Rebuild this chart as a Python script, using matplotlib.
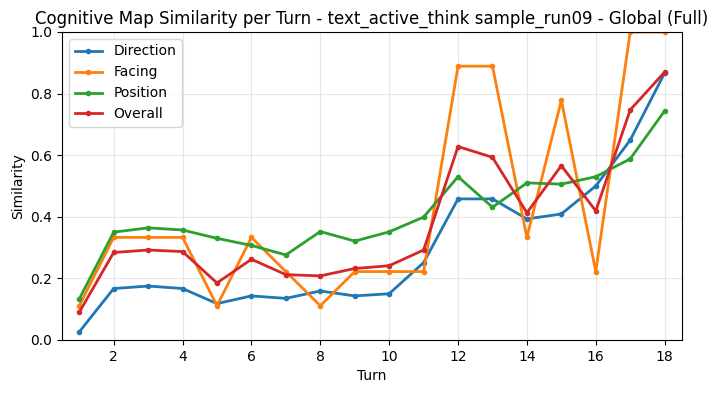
import matplotlib
matplotlib.use("Agg")
import matplotlib.pyplot as plt

turns = list(range(1, 19))
direction = [0.026, 0.167, 0.175, 0.167, 0.118, 0.143, 0.135, 0.159, 0.143, 0.150,
             0.251, 0.458, 0.458, 0.393, 0.409, 0.500, 0.649, 0.867]
facing = [0.111, 0.333, 0.333, 0.333, 0.111, 0.333, 0.222, 0.111, 0.222, 0.222,
          0.222, 0.889, 0.889, 0.333, 0.778, 0.222, 1.0, 1.0]
position = [0.133, 0.350, 0.364, 0.357, 0.330, 0.307, 0.276, 0.352, 0.321, 0.351,
            0.399, 0.530, 0.431, 0.510, 0.506, 0.530, 0.588, 0.744]
overall = [0.090, 0.284, 0.292, 0.287, 0.185, 0.262, 0.212, 0.208, 0.232, 0.241,
           0.292, 0.628, 0.593, 0.413, 0.566, 0.419, 0.747, 0.870]

fig, ax = plt.subplots(figsize=(7.17, 3.93), dpi=100)
fig.subplots_adjust(left=0.0865, right=0.951, top=0.9186, bottom=0.135)

ax.plot(turns, direction, marker='o', markersize=3, linewidth=2, label='Direction')
ax.plot(turns, facing, marker='o', markersize=3, linewidth=2, label='Facing')
ax.plot(turns, position, marker='o', markersize=3, linewidth=2, label='Position')
ax.plot(turns, overall, marker='o', markersize=3, linewidth=2, label='Overall')

ax.set_xlim(0.5, 18.5)
ax.set_ylim(0, 1)
ax.set_xticks(range(2, 19, 2))
ax.set_xlabel('Turn')
ax.set_ylabel('Similarity')
ax.set_title('Cognitive Map Similarity per Turn - text_active_think sample_run09 - Global (Full)')
ax.legend(loc='upper left')
ax.grid(True, alpha=0.3)

fig.savefig('out.png')
